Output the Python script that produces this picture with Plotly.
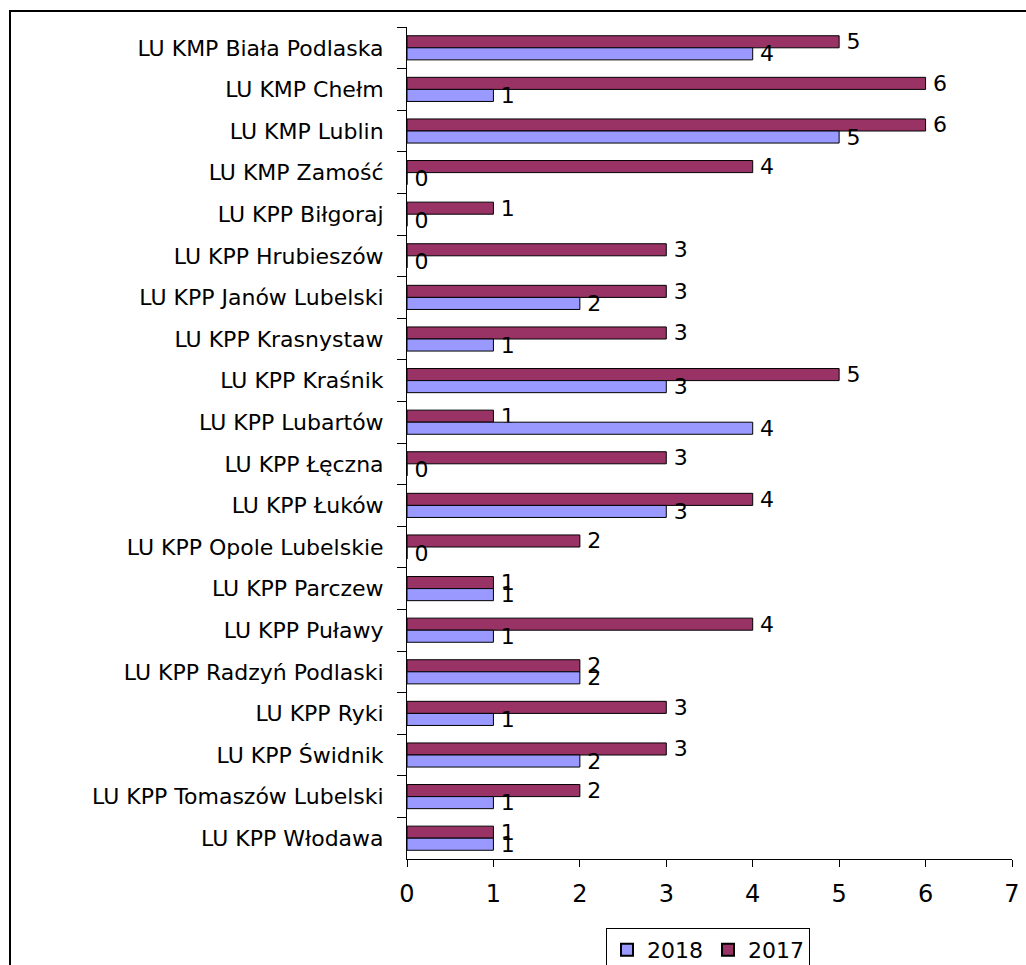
import plotly.graph_objects as go

categories = [
    "LU KMP Biała Podlaska", "LU KMP Chełm", "LU KMP Lublin", "LU KMP Zamość",
    "LU KPP Biłgoraj", "LU KPP Hrubieszów", "LU KPP Janów Lubelski",
    "LU KPP Krasnystaw", "LU KPP Kraśnik", "LU KPP Lubartów", "LU KPP Łęczna",
    "LU KPP Łuków", "LU KPP Opole Lubelskie", "LU KPP Parczew", "LU KPP Puławy",
    "LU KPP Radzyń Podlaski", "LU KPP Ryki", "LU KPP Świdnik",
    "LU KPP Tomaszów Lubelski", "LU KPP Włodawa",
]
values_2018 = [4, 1, 5, 0, 0, 0, 2, 1, 3, 4, 0, 3, 0, 1, 1, 2, 1, 2, 1, 1]
values_2017 = [5, 6, 6, 4, 1, 3, 3, 3, 5, 1, 3, 4, 2, 1, 4, 2, 3, 3, 2, 1]
x_ticks = [0, 1, 2, 3, 4, 5, 6, 7]

FONT = "DejaVu Sans, Liberation Sans, Arial, sans-serif"
FS = 22

fig = go.Figure()
fig.add_trace(go.Bar(
    name="2017", y=categories, x=values_2017, orientation="h",
    marker=dict(color="#993366", line=dict(color="black", width=1)),
    texttemplate="\u2009%{x}", textposition="outside",
    textfont=dict(family=FONT, size=FS, color="black"),
    constraintext="none", cliponaxis=False,
))
fig.add_trace(go.Bar(
    name="2018", y=categories, x=values_2018, orientation="h",
    marker=dict(color="#9999FF", line=dict(color="black", width=1)),
    texttemplate="\u2009%{x}", textposition="outside",
    textfont=dict(family=FONT, size=FS, color="black"),
    constraintext="none", cliponaxis=False,
))

L, R, T, B = 407, 14, 27, 106
W, H = 1026, 965
pw, ph = W - L - R, H - T - B

def px_x(p):
    return (p - L) / pw

def px_y(p):
    return (H - B - p) / ph

fig.update_layout(
    width=W, height=H,
    margin=dict(l=L, r=R, t=T, b=B, pad=0, autoexpand=False),
    paper_bgcolor="white", plot_bgcolor="white",
    barmode="group", bargap=0.42, bargroupgap=0,
    font=dict(family=FONT, size=FS, color="black"),
    showlegend=True,
    legend=dict(
        orientation="h", traceorder="reversed",
        xref="container", yref="container",
        x=606 / W, xanchor="left", y=(H - 928) / H, yanchor="top",
        bordercolor="black", borderwidth=1, bgcolor="white",
        font=dict(family=FONT, size=FS, color="black"),
        itemsizing="constant", itemwidth=30,
    ),
    xaxis=dict(
        range=[0, 7], tickvals=x_ticks, ticktext=[str(t) for t in x_ticks],
        showgrid=False, zeroline=False, showline=True, linecolor="black",
        linewidth=1, ticks="outside", ticklen=7, tickcolor="black",
        ticklabelstandoff=6, automargin=False,
        tickfont=dict(family=FONT, size=24, color="black"),
    ),
    yaxis=dict(
        categoryorder="array", categoryarray=categories, autorange="reversed",
        showgrid=False, zeroline=False, showline=True, linecolor="black",
        linewidth=1, ticks="outside", ticklen=9, tickcolor="black",
        tickson="boundaries", ticklabelstandoff=18, automargin=False,
        tickfont=dict(family=FONT, size=FS, color="black"),
    ),
    shapes=[dict(
        type="rect", xref="paper", yref="paper",
        x0=px_x(10), x1=px_x(1040), y0=px_y(980), y1=px_y(11),
        line=dict(color="black", width=2), fillcolor="rgba(0,0,0,0)",
        layer="above",
    )],
)

fig.write_html(
    "out.html",
    config={"displayModeBar": False},
    post_script="document.body.style.margin='0';document.body.style.overflow='hidden';",
)
